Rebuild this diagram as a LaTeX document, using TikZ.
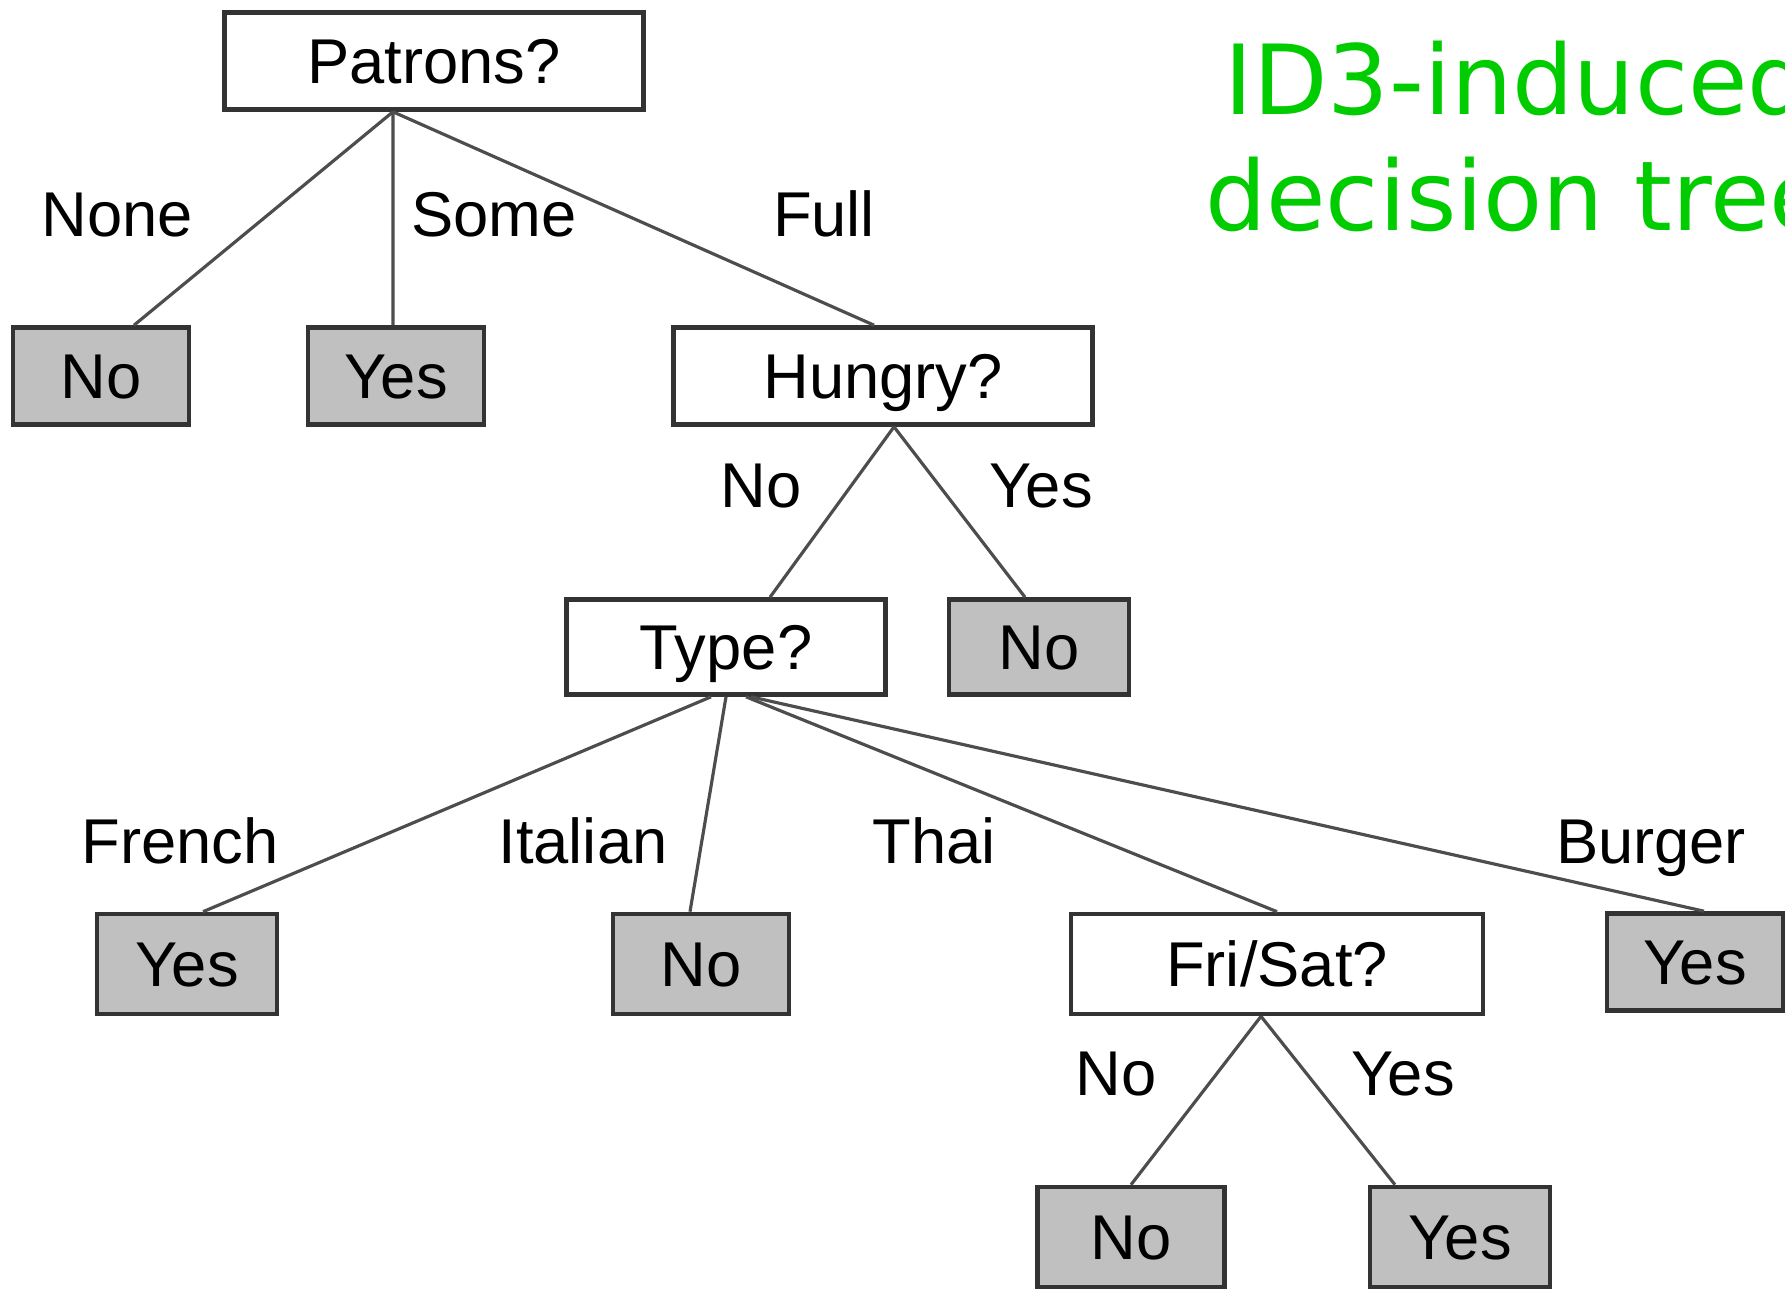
\documentclass[tikz,border=0pt]{standalone}
\usepackage{fontspec}
\setmainfont{Liberation Sans}
\newfontfamily\titlefont{DejaVu Sans}
\definecolor{boxline}{HTML}{333333}
\definecolor{leafgray}{HTML}{C0C0C0}
\definecolor{edgegray}{HTML}{4D4D4D}
\definecolor{titlegreen}{HTML}{00CC00}

\begin{document}
\begin{tikzpicture}[x=0.01cm, y=-0.01cm,
    every node/.style={font=\fontsize{18}{21}\selectfont},
    attr/.style={draw=boxline, line width=1.3pt, fill=white, inner sep=0pt,
        text height=13pt, text depth=0pt, minimum height=0.97cm},
    leaf/.style={attr, fill=leafgray, minimum width=1.76cm},
    branch/.style={draw=edgegray, line width=0.9pt},
    lbl/.style={anchor=base, inner sep=0pt},
    heading/.style={anchor=base, inner sep=0pt, text=titlegreen,
        font=\titlefont\fontsize{27.5}{33}\selectfont}]
    \useasboundingbox (0,0) rectangle (1785,1290);

    % title
    \node[heading] (title-a) at (1517,114) {ID3-induced};
    \node[heading] (title-b) at (1517,230) {decision tree};

    % tree nodes
    \node[attr, minimum width=4.19cm] (patrons) at (434,61) {Patrons?};
    \node[leaf] (none-no) at (101,376) {No};
    \node[leaf] (some-yes) at (396,376) {Yes};
    \node[attr, minimum width=4.19cm] (hungry) at (883,376) {Hungry?};
    \node[attr, minimum width=3.19cm, minimum height=0.95cm] (type) at (726,647) {Type?};
    \node[leaf, minimum width=1.80cm, minimum height=0.95cm] (hungry-no) at (1039,647) {No};
    \node[leaf, minimum width=1.80cm, minimum height=1.0cm] (french-yes) at (187,964) {Yes};
    \node[leaf, minimum height=1.0cm] (italian-no) at (701,964) {No};
    \node[attr, minimum width=4.12cm, minimum height=1.0cm] (frisat) at (1277,964) {Fri/Sat?};
    \node[leaf] (burger-yes) at (1695,962) {Yes};
    \node[leaf, minimum width=1.87cm, minimum height=1.0cm] (frisat-no) at (1131,1237) {No};
    \node[leaf, minimum width=1.80cm, minimum height=1.0cm] (frisat-yes) at (1460,1237) {Yes};

    % branches
    \coordinate (patrons-root) at ([xshift=-0.41cm]patrons.south);
    \draw[branch] (patrons-root) -- ([xshift=0.33cm]none-no.north);
    \draw[branch] (patrons-root) -- ([xshift=-0.03cm]some-yes.north);
    \draw[branch] (patrons-root) -- ([xshift=-0.09cm]hungry.north);
    \coordinate (hungry-root) at ([xshift=0.11cm]hungry.south);
    \draw[branch] (hungry-root) -- ([xshift=0.44cm]type.north);
    \draw[branch] (hungry-root) -- ([xshift=-0.14cm]hungry-no.north);
    \draw[branch] ([xshift=-0.15cm]type.south) -- ([xshift=0.16cm]french-yes.north);
    \draw[branch] ([xshift=0cm]type.south) -- ([xshift=-0.11cm]italian-no.north);
    \draw[branch] ([xshift=0.2cm]type.south) -- (frisat.north);
    \draw[branch] ([xshift=0.25cm]type.south) -- ([xshift=0.09cm]burger-yes.north);
    \coordinate (frisat-root) at ([xshift=-0.16cm]frisat.south);
    \draw[branch] (frisat-root) -- (frisat-no.north);
    \draw[branch] (frisat-root) -- ([xshift=-0.65cm]frisat-yes.north);

    % branch labels
    \node[lbl] (l-none) at (117,236) {None};
    \node[lbl] (l-some) at (494,236) {Some};
    \node[lbl] (l-full) at (824,236) {Full};
    \node[lbl] (l-hno) at (761,507) {No};
    \node[lbl] (l-hyes) at (1041,507) {Yes};
    \node[lbl] (l-french) at (180,863) {French};
    \node[lbl] (l-italian) at (583,863) {Italian};
    \node[lbl] (l-thai) at (934,863) {Thai};
    \node[lbl] (l-burger) at (1651,863) {Burger};
    \node[lbl] (l-fno) at (1116,1095) {No};
    \node[lbl] (l-fyes) at (1403,1095) {Yes};
\end{tikzpicture}
\end{document}
